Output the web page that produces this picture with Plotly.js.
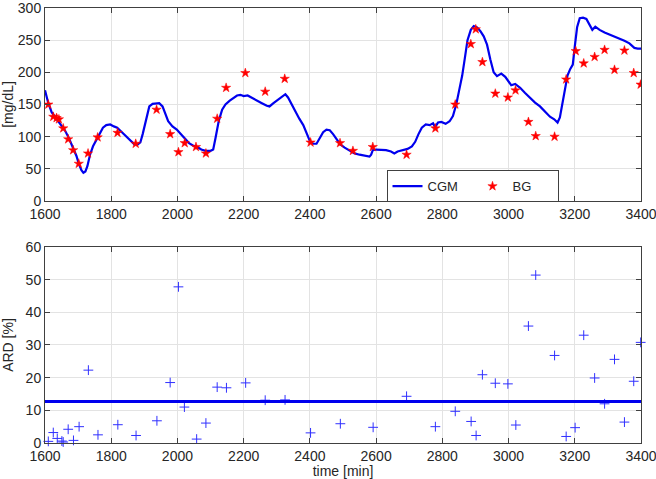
<!DOCTYPE html>
<html>
<head>
<meta charset="utf-8">
<script src="https://cdn.plot.ly/plotly-3.0.1.min.js"></script>
<style>
  html, body { margin: 0; padding: 0; background: #ffffff; }
  #chart { width: 656px; height: 479px; }
</style>
</head>
<body>
<div id="chart"></div>
<script>
// CGM trace (time in min, glucose in mg/dL)
const cgmTime = [1600, 1610, 1620, 1630, 1645, 1660, 1672, 1685, 1695, 1702, 1710, 1716, 1722, 1728, 1736, 1745, 1755, 1765, 1775, 1785,
  1797, 1808, 1818, 1830, 1845, 1860, 1870, 1880, 1888, 1895, 1905, 1915, 1925, 1935, 1945, 1955, 1963, 1972, 1985, 1998,
  2010, 2022, 2035, 2048, 2060, 2072, 2085, 2100, 2108, 2115, 2125, 2135, 2145, 2158, 2170, 2180, 2190, 2200, 2212, 2225,
  2240, 2255, 2270, 2278, 2290, 2305, 2318, 2326, 2334, 2345, 2355, 2368, 2380, 2390, 2400, 2410, 2420, 2430, 2440, 2450,
  2460, 2470, 2482, 2492, 2505, 2520, 2535, 2550, 2565, 2580, 2585, 2590, 2600, 2615, 2630, 2645, 2655, 2665, 2680, 2695,
  2708, 2718, 2728, 2738, 2750, 2762, 2772, 2778, 2787, 2797, 2810, 2822, 2832, 2842, 2850, 2860, 2868, 2876, 2886, 2895,
  2905, 2915, 2925, 2935, 2945, 2955, 2965, 2978, 2990, 3000, 3008, 3020, 3035, 3050, 3065, 3080, 3095, 3110, 3125, 3138,
  3148, 3155, 3162, 3170, 3178, 3186, 3194, 3200, 3207, 3215, 3225, 3235, 3242, 3248, 3253, 3262, 3275, 3290, 3305, 3320,
  3335, 3350, 3365, 3380, 3390, 3400];
const cgmValue = [172, 152, 138, 131, 120, 110, 98, 83, 70, 58, 48, 44, 46, 54, 72, 85, 95, 103, 114, 118,
  119, 116, 114, 108, 100, 93, 88, 88, 91, 104, 128, 147, 151, 152, 152, 147, 135, 124, 116, 111,
  104, 97, 90, 86, 84, 80, 78, 78, 80, 98, 125, 142, 150, 156, 160, 164, 165, 163, 164, 160,
  156, 152, 148, 147, 152, 158, 164, 166, 161, 150, 140, 128, 118, 104, 93, 89, 89, 98, 107, 111,
  110, 104, 96, 88, 83, 78, 74, 72, 70, 69, 72, 79, 80, 80, 79, 77, 74, 77, 79, 81,
  85, 92, 104, 114, 119, 118, 121, 115, 122, 123, 120, 124, 132, 150, 170, 195, 222, 250, 266, 272,
  270, 264, 256, 243, 220, 200, 194, 198, 193, 185, 180, 182, 176, 168, 160, 153, 147, 139, 131, 127,
  122, 130, 150, 175, 195, 205, 212, 240, 270, 284, 285, 283, 277, 270, 266, 271, 266, 262, 259, 256,
  253, 249, 245, 238, 237, 237];

// reference blood glucose samples
const bgTime = [1610, 1625, 1635, 1642, 1655, 1670, 1685, 1702, 1730, 1759, 1819, 1874, 1937, 1978, 2003, 2022, 2056, 2086, 2120, 2147,
  2205, 2265, 2324, 2402, 2491, 2530, 2590, 2692, 2779, 2839, 2886, 2901, 2921, 2960, 2998, 3021, 3060, 3082, 3139, 3174,
  3203, 3227, 3260, 3290, 3320, 3350, 3378, 3399];
const bgValue = [150, 131, 129, 127, 113, 96, 79, 58, 74, 99, 106, 89, 142, 104, 76, 90, 84, 74, 128, 176,
  199, 170, 190, 91, 90, 78, 84, 72, 113, 150, 244, 267, 216, 167, 161, 172, 123, 101, 100, 189,
  233, 214, 224, 235, 204, 234, 199, 181];

// absolute relative difference [%]
const ardTime = [1610, 1625, 1637, 1651, 1655, 1670, 1686, 1703, 1731, 1760, 1820, 1875, 1938, 1978, 2003, 2021, 2058, 2086, 2120, 2148,
  2206, 2265, 2325, 2402, 2492, 2591, 2692, 2779, 2839, 2887, 2902, 2921, 2960, 2998, 3022, 3060, 3082, 3139, 3174, 3201,
  3227, 3260, 3290, 3320, 3350, 3378, 3399];
const ardValue = [0.5, 3.2, 1.4, 0.6, 0.3, 4.2, 0.8, 5.0, 22.3, 2.5, 5.6, 2.3, 6.8, 18.5, 47.8, 11.0, 1.2, 6.1, 17.1, 16.9,
  18.4, 13.1, 13.2, 3.1, 5.9, 4.8, 14.3, 5.0, 9.7, 6.6, 2.3, 20.9, 18.3, 18.1, 5.5, 35.8, 51.4, 26.8, 2.0, 4.7,
  33.0, 19.9, 12.0, 25.6, 6.4, 18.9, 30.8];
const ardMean = 12.7;

const xTicks = [1600, 1800, 2000, 2200, 2400, 2600, 2800, 3000, 3200, 3400];

const FONT = 'Liberation Sans, Arial, sans-serif';
const INK = '#262626';

function axisStyle(extra) {
  return Object.assign({
    showline: true,
    linecolor: '#404040',
    linewidth: 1,
    mirror: 'ticks',
    ticks: 'inside',
    ticklen: 5,
    tickcolor: '#404040',
    showgrid: true,
    gridcolor: '#e3e3e3',
    zeroline: false,
    ticklabeloverflow: 'allow',
    tickfont: { family: FONT, size: 14, color: INK },
  }, extra);
}

const traces = [
  {
    x: cgmTime, y: cgmValue,
    type: 'scatter', mode: 'lines', name: 'CGM',
    line: { color: '#0000ee', width: 2.2 },
    xaxis: 'x', yaxis: 'y',
  },
  {
    x: bgTime, y: bgValue,
    type: 'scatter', mode: 'markers', name: 'BG',
    marker: { symbol: 'star', color: '#ff0000', size: 7, line: { width: 0.5, color: '#ff0000' } },
    xaxis: 'x', yaxis: 'y',
  },
  {
    x: ardTime, y: ardValue,
    type: 'scatter', mode: 'markers', name: 'ARD',
    marker: { symbol: 'cross-thin-open', size: 7, color: '#3030ff', line: { width: 1, color: '#3030ff' } },
    xaxis: 'x2', yaxis: 'y2', showlegend: false, cliponaxis: false,
  },
];

const layout = {
  width: 656,
  height: 479,
  margin: { t: 8, r: 15, l: 45, b: 36 },
  paper_bgcolor: '#ffffff',
  plot_bgcolor: '#ffffff',
  font: { family: FONT, size: 13, color: INK },
  showlegend: true,
  xaxis: axisStyle({ domain: [0, 1], range: [1600, 3400], tickvals: xTicks, anchor: 'y' }),
  yaxis: axisStyle({ domain: [0.5563, 1], range: [0, 300], dtick: 50, anchor: 'x',
    title: { text: '[mg/dL]', font: { family: FONT, size: 14, color: INK }, standoff: 6 } }),
  xaxis2: axisStyle({ domain: [0, 1], range: [1600, 3400], tickvals: xTicks, anchor: 'y2',
    title: { text: 'time [min]', font: { family: FONT, size: 14, color: INK }, standoff: 2 } }),
  yaxis2: axisStyle({ domain: [0, 0.4506], range: [0, 60], dtick: 10, anchor: 'x2',
    title: { text: 'ARD [%]', font: { family: FONT, size: 14, color: INK }, standoff: 14 } }),
  shapes: [
    {
      type: 'line', xref: 'x2 domain', yref: 'y2',
      x0: 0, x1: 1, y0: ardMean, y1: ardMean,
      line: { color: '#0000ee', width: 3 },
    },
  ],
  legend: {
    orientation: 'h',
    x: 0.573, xanchor: 'left',
    y: 0.5535, yanchor: 'bottom',
    bgcolor: '#ffffff',
    bordercolor: '#404040',
    borderwidth: 1,
    entrywidth: 40,
    font: { family: FONT, size: 13, color: INK },
  },
};

Plotly.newPlot('chart', traces, layout, { displayModeBar: false, staticPlot: true });
</script>
</body>
</html>
